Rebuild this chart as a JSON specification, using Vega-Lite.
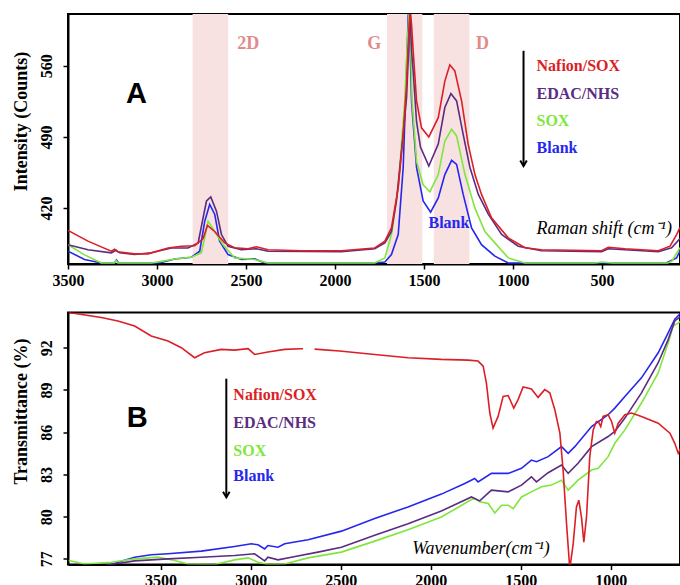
{
  "$schema": "https://vega.github.io/schema/vega-lite/v6.json",
  "background": "white",
  "padding": {"left": 10, "top": 13, "right": 1, "bottom": 0},
  "spacing": 22.5,
  "config": {
    "view": {"stroke": "black", "strokeWidth": 2},
    "axis": {
      "grid": false,
      "labelFont": "Liberation Serif", "labelFontWeight": "bold", "labelFontSize": 16, "labelColor": "black",
      "titleFont": "Liberation Serif", "titleFontWeight": "bold", "titleFontSize": 18, "titleColor": "black",
      "domainColor": "black", "domainWidth": 2, "tickColor": "black", "tickWidth": 1.5, "tickSize": 5,
      "labelPadding": 3, "titlePadding": 6, "labelFlush": false
    },
    "axisY": {"labelPadding": 9, "titlePadding": 8},
    "text": {"font": "Liberation Serif", "fontWeight": "bold"}
  },
  "datasets": {
    "bandsA": [
      {"x1": 2800, "x2": 2600},
      {"x1": 1708, "x2": 1510},
      {"x1": 1445, "x2": 1245}
    ],
    "bandLabelsA": [
      {"t": "2D", "x": 2487, "y": 581},
      {"t": "G", "x": 1780, "y": 581},
      {"t": "D", "x": 1171, "y": 581}
    ],
    "legendA": [
      {"s": "Nafion/SOX", "t": "Nafion/SOX", "x": 868, "y": 560},
      {"s": "EDAC/NHS", "t": "EDAC/NHS", "x": 868, "y": 532},
      {"s": "SOX", "t": "SOX", "x": 868, "y": 505.8},
      {"s": "Blank", "t": "Blank", "x": 868, "y": 479},
      {"s": "Blank", "t": "Blank", "x": 1475, "y": 405}
    ],
    "arrowA": [{"x": 941, "y": 574.8, "y2": 461.4}],
    "letterA": [{"t": "A", "x": 3116, "y": 532.4}],
    "captionA": [{"t": "Raman shift (cm⁻¹)", "x": 868, "y": 399.3}],
    "raman": [
      {"s": "Blank", "x": 3500, "y": 377.6}, {"s": "Blank", "x": 3407, "y": 369.5}, {"s": "Blank", "x": 3313, "y": 366}, {"s": "Blank", "x": 3240, "y": 366}, {"s": "Blank", "x": 3228, "y": 369}, {"s": "Blank", "x": 3216, "y": 366}, {"s": "Blank", "x": 3000, "y": 366}, {"s": "Blank", "x": 2976, "y": 366.5}, {"s": "Blank", "x": 2901, "y": 370}, {"s": "Blank", "x": 2807, "y": 371.7}, {"s": "Blank", "x": 2760, "y": 377.6}, {"s": "Blank", "x": 2732, "y": 407}, {"s": "Blank", "x": 2704, "y": 423.6}, {"s": "Blank", "x": 2676, "y": 414}, {"s": "Blank", "x": 2648, "y": 387.5}, {"s": "Blank", "x": 2601, "y": 374.3}, {"s": "Blank", "x": 2526, "y": 369.5}, {"s": "Blank", "x": 2451, "y": 370}, {"s": "Blank", "x": 2395, "y": 366}, {"s": "Blank", "x": 1777, "y": 366}, {"s": "Blank", "x": 1720, "y": 367}, {"s": "Blank", "x": 1683, "y": 374.3}, {"s": "Blank", "x": 1645, "y": 394}, {"s": "Blank", "x": 1617, "y": 460}, {"s": "Blank", "x": 1598, "y": 558}, {"s": "Blank", "x": 1588, "y": 614}, {"s": "Blank", "x": 1578, "y": 580}, {"s": "Blank", "x": 1570, "y": 525}, {"s": "Blank", "x": 1542, "y": 460}, {"s": "Blank", "x": 1505, "y": 427}, {"s": "Blank", "x": 1463, "y": 416}, {"s": "Blank", "x": 1420, "y": 430}, {"s": "Blank", "x": 1383, "y": 453}, {"s": "Blank", "x": 1345, "y": 467}, {"s": "Blank", "x": 1317, "y": 463}, {"s": "Blank", "x": 1280, "y": 433.5}, {"s": "Blank", "x": 1233, "y": 400.6}, {"s": "Blank", "x": 1177, "y": 384}, {"s": "Blank", "x": 1102, "y": 372.7}, {"s": "Blank", "x": 1027, "y": 366}, {"s": "Blank", "x": 140, "y": 366}, {"s": "Blank", "x": 81, "y": 371}, {"s": "Blank", "x": 62, "y": 378},
      {"s": "SOX", "x": 3500, "y": 384}, {"s": "SOX", "x": 3407, "y": 374}, {"s": "SOX", "x": 3313, "y": 366}, {"s": "SOX", "x": 3240, "y": 366}, {"s": "SOX", "x": 3230, "y": 368.5}, {"s": "SOX", "x": 3220, "y": 366}, {"s": "SOX", "x": 3032, "y": 366}, {"s": "SOX", "x": 2976, "y": 367.6}, {"s": "SOX", "x": 2901, "y": 370}, {"s": "SOX", "x": 2807, "y": 371.7}, {"s": "SOX", "x": 2751, "y": 376}, {"s": "SOX", "x": 2728, "y": 394}, {"s": "SOX", "x": 2713, "y": 407}, {"s": "SOX", "x": 2676, "y": 397}, {"s": "SOX", "x": 2629, "y": 384}, {"s": "SOX", "x": 2564, "y": 371}, {"s": "SOX", "x": 2451, "y": 369.5}, {"s": "SOX", "x": 2376, "y": 366}, {"s": "SOX", "x": 1777, "y": 366}, {"s": "SOX", "x": 1720, "y": 371}, {"s": "SOX", "x": 1683, "y": 394}, {"s": "SOX", "x": 1645, "y": 440}, {"s": "SOX", "x": 1608, "y": 525.5}, {"s": "SOX", "x": 1595, "y": 580}, {"s": "SOX", "x": 1583, "y": 614}, {"s": "SOX", "x": 1575, "y": 580}, {"s": "SOX", "x": 1567, "y": 525}, {"s": "SOX", "x": 1542, "y": 466}, {"s": "SOX", "x": 1505, "y": 443}, {"s": "SOX", "x": 1467, "y": 436}, {"s": "SOX", "x": 1420, "y": 453}, {"s": "SOX", "x": 1383, "y": 486}, {"s": "SOX", "x": 1345, "y": 497.6}, {"s": "SOX", "x": 1317, "y": 491}, {"s": "SOX", "x": 1270, "y": 453}, {"s": "SOX", "x": 1214, "y": 420}, {"s": "SOX", "x": 1158, "y": 397}, {"s": "SOX", "x": 1102, "y": 385.8}, {"s": "SOX", "x": 1027, "y": 371}, {"s": "SOX", "x": 933, "y": 366}, {"s": "SOX", "x": 540, "y": 366}, {"s": "SOX", "x": 502, "y": 367}, {"s": "SOX", "x": 440, "y": 366}, {"s": "SOX", "x": 130, "y": 366}, {"s": "SOX", "x": 109, "y": 367.6}, {"s": "SOX", "x": 62, "y": 381},
      {"s": "EDAC/NHS", "x": 3500, "y": 384}, {"s": "EDAC/NHS", "x": 3388, "y": 379}, {"s": "EDAC/NHS", "x": 3257, "y": 376}, {"s": "EDAC/NHS", "x": 3230, "y": 378.5}, {"s": "EDAC/NHS", "x": 3210, "y": 376}, {"s": "EDAC/NHS", "x": 3126, "y": 374.3}, {"s": "EDAC/NHS", "x": 3032, "y": 376}, {"s": "EDAC/NHS", "x": 2919, "y": 380.8}, {"s": "EDAC/NHS", "x": 2826, "y": 380.8}, {"s": "EDAC/NHS", "x": 2769, "y": 385.8}, {"s": "EDAC/NHS", "x": 2741, "y": 410.5}, {"s": "EDAC/NHS", "x": 2722, "y": 427}, {"s": "EDAC/NHS", "x": 2698, "y": 431}, {"s": "EDAC/NHS", "x": 2666, "y": 417}, {"s": "EDAC/NHS", "x": 2638, "y": 394}, {"s": "EDAC/NHS", "x": 2601, "y": 382.5}, {"s": "EDAC/NHS", "x": 2526, "y": 379}, {"s": "EDAC/NHS", "x": 2441, "y": 380}, {"s": "EDAC/NHS", "x": 2376, "y": 377.6}, {"s": "EDAC/NHS", "x": 1964, "y": 377}, {"s": "EDAC/NHS", "x": 1777, "y": 380}, {"s": "EDAC/NHS", "x": 1720, "y": 385.8}, {"s": "EDAC/NHS", "x": 1683, "y": 397}, {"s": "EDAC/NHS", "x": 1655, "y": 427}, {"s": "EDAC/NHS", "x": 1617, "y": 492.6}, {"s": "EDAC/NHS", "x": 1598, "y": 529}, {"s": "EDAC/NHS", "x": 1588, "y": 570}, {"s": "EDAC/NHS", "x": 1579, "y": 614}, {"s": "EDAC/NHS", "x": 1570, "y": 575}, {"s": "EDAC/NHS", "x": 1561, "y": 555}, {"s": "EDAC/NHS", "x": 1542, "y": 505}, {"s": "EDAC/NHS", "x": 1520, "y": 480}, {"s": "EDAC/NHS", "x": 1473, "y": 461.4}, {"s": "EDAC/NHS", "x": 1420, "y": 483}, {"s": "EDAC/NHS", "x": 1383, "y": 519}, {"s": "EDAC/NHS", "x": 1349, "y": 532.7}, {"s": "EDAC/NHS", "x": 1317, "y": 525.5}, {"s": "EDAC/NHS", "x": 1280, "y": 492.6}, {"s": "EDAC/NHS", "x": 1242, "y": 460}, {"s": "EDAC/NHS", "x": 1195, "y": 433.5}, {"s": "EDAC/NHS", "x": 1139, "y": 414}, {"s": "EDAC/NHS", "x": 1064, "y": 394}, {"s": "EDAC/NHS", "x": 971, "y": 382.5}, {"s": "EDAC/NHS", "x": 840, "y": 378}, {"s": "EDAC/NHS", "x": 502, "y": 377}, {"s": "EDAC/NHS", "x": 465, "y": 380}, {"s": "EDAC/NHS", "x": 184, "y": 377}, {"s": "EDAC/NHS", "x": 109, "y": 381}, {"s": "EDAC/NHS", "x": 62, "y": 390},
      {"s": "Nafion/SOX", "x": 3500, "y": 398}, {"s": "Nafion/SOX", "x": 3388, "y": 387.5}, {"s": "Nafion/SOX", "x": 3257, "y": 377.6}, {"s": "Nafion/SOX", "x": 3238, "y": 379.5}, {"s": "Nafion/SOX", "x": 3220, "y": 377}, {"s": "Nafion/SOX", "x": 3126, "y": 375}, {"s": "Nafion/SOX", "x": 3050, "y": 375}, {"s": "Nafion/SOX", "x": 2938, "y": 380.8}, {"s": "Nafion/SOX", "x": 2863, "y": 382.5}, {"s": "Nafion/SOX", "x": 2788, "y": 383}, {"s": "Nafion/SOX", "x": 2741, "y": 390}, {"s": "Nafion/SOX", "x": 2717, "y": 403}, {"s": "Nafion/SOX", "x": 2676, "y": 397}, {"s": "Nafion/SOX", "x": 2620, "y": 385.8}, {"s": "Nafion/SOX", "x": 2564, "y": 381}, {"s": "Nafion/SOX", "x": 2488, "y": 380}, {"s": "Nafion/SOX", "x": 2441, "y": 382}, {"s": "Nafion/SOX", "x": 2376, "y": 379}, {"s": "Nafion/SOX", "x": 2189, "y": 378}, {"s": "Nafion/SOX", "x": 1964, "y": 378}, {"s": "Nafion/SOX", "x": 1777, "y": 380.8}, {"s": "Nafion/SOX", "x": 1720, "y": 387.5}, {"s": "Nafion/SOX", "x": 1683, "y": 400.6}, {"s": "Nafion/SOX", "x": 1645, "y": 440}, {"s": "Nafion/SOX", "x": 1617, "y": 492.6}, {"s": "Nafion/SOX", "x": 1598, "y": 542}, {"s": "Nafion/SOX", "x": 1590, "y": 575}, {"s": "Nafion/SOX", "x": 1583, "y": 600}, {"s": "Nafion/SOX", "x": 1577, "y": 615}, {"s": "Nafion/SOX", "x": 1570, "y": 600}, {"s": "Nafion/SOX", "x": 1561, "y": 575}, {"s": "Nafion/SOX", "x": 1542, "y": 525.5}, {"s": "Nafion/SOX", "x": 1514, "y": 499}, {"s": "Nafion/SOX", "x": 1473, "y": 490}, {"s": "Nafion/SOX", "x": 1420, "y": 509}, {"s": "Nafion/SOX", "x": 1383, "y": 545}, {"s": "Nafion/SOX", "x": 1355, "y": 561}, {"s": "Nafion/SOX", "x": 1327, "y": 555}, {"s": "Nafion/SOX", "x": 1289, "y": 525.5}, {"s": "Nafion/SOX", "x": 1252, "y": 483}, {"s": "Nafion/SOX", "x": 1214, "y": 453}, {"s": "Nafion/SOX", "x": 1177, "y": 433.5}, {"s": "Nafion/SOX", "x": 1121, "y": 410.5}, {"s": "Nafion/SOX", "x": 1027, "y": 390.7}, {"s": "Nafion/SOX", "x": 933, "y": 381}, {"s": "Nafion/SOX", "x": 840, "y": 379}, {"s": "Nafion/SOX", "x": 502, "y": 378}, {"s": "Nafion/SOX", "x": 465, "y": 381.5}, {"s": "Nafion/SOX", "x": 371, "y": 380}, {"s": "Nafion/SOX", "x": 184, "y": 378}, {"s": "Nafion/SOX", "x": 118, "y": 382.5}, {"s": "Nafion/SOX", "x": 81, "y": 394}, {"s": "Nafion/SOX", "x": 62, "y": 401}
    ],
    "legendB": [
      {"s": "Nafion/SOX", "t": "Nafion/SOX", "x": 3096, "y": 88.66},
      {"s": "EDAC/NHS", "t": "EDAC/NHS", "x": 3096, "y": 86.66},
      {"s": "SOX", "t": "SOX", "x": 3096, "y": 84.66},
      {"s": "Blank", "t": "Blank", "x": 3096, "y": 82.88}
    ],
    "arrowB": [{"x": 3135, "y": 89.8, "y2": 81.38}],
    "letterB": [{"t": "B", "x": 3629, "y": 87.02}],
    "captionB": [{"t": "Wavenumber(cm⁻¹)", "x": 2103, "y": 77.71}],
    "ftir": [
      {"s": "Blank", "x": 3900, "y": 76.3}, {"s": "Blank", "x": 3774, "y": 76.6}, {"s": "Blank", "x": 3700, "y": 76.9}, {"s": "Blank", "x": 3644, "y": 77.12}, {"s": "Blank", "x": 3552, "y": 77.29}, {"s": "Blank", "x": 3459, "y": 77.36}, {"s": "Blank", "x": 3274, "y": 77.55}, {"s": "Blank", "x": 3089, "y": 77.88}, {"s": "Blank", "x": 2996, "y": 78.07}, {"s": "Blank", "x": 2959, "y": 78.0}, {"s": "Blank", "x": 2922, "y": 77.71}, {"s": "Blank", "x": 2904, "y": 77.95}, {"s": "Blank", "x": 2848, "y": 77.83}, {"s": "Blank", "x": 2811, "y": 78.07}, {"s": "Blank", "x": 2681, "y": 78.36}, {"s": "Blank", "x": 2496, "y": 78.97}, {"s": "Blank", "x": 2311, "y": 79.86}, {"s": "Blank", "x": 2126, "y": 80.69}, {"s": "Blank", "x": 1941, "y": 81.6}, {"s": "Blank", "x": 1811, "y": 82.36}, {"s": "Blank", "x": 1756, "y": 82.71}, {"s": "Blank", "x": 1737, "y": 82.47}, {"s": "Blank", "x": 1663, "y": 83.07}, {"s": "Blank", "x": 1570, "y": 83.07}, {"s": "Blank", "x": 1496, "y": 83.43}, {"s": "Blank", "x": 1441, "y": 84.02}, {"s": "Blank", "x": 1413, "y": 83.9}, {"s": "Blank", "x": 1348, "y": 84.26}, {"s": "Blank", "x": 1274, "y": 84.97}, {"s": "Blank", "x": 1237, "y": 84.5}, {"s": "Blank", "x": 1200, "y": 84.97}, {"s": "Blank", "x": 1107, "y": 86.4}, {"s": "Blank", "x": 1015, "y": 87.24}, {"s": "Blank", "x": 978, "y": 87.71}, {"s": "Blank", "x": 922, "y": 88.54}, {"s": "Blank", "x": 830, "y": 89.86}, {"s": "Blank", "x": 737, "y": 91.64}, {"s": "Blank", "x": 681, "y": 93.07}, {"s": "Blank", "x": 645, "y": 94.02}, {"s": "Blank", "x": 608, "y": 94.5},
      {"s": "SOX", "x": 4010, "y": 76.88}, {"s": "SOX", "x": 3922, "y": 76.64}, {"s": "SOX", "x": 3774, "y": 76.76}, {"s": "SOX", "x": 3644, "y": 77.0}, {"s": "SOX", "x": 3514, "y": 77.12}, {"s": "SOX", "x": 3422, "y": 76.88}, {"s": "SOX", "x": 3348, "y": 76.64}, {"s": "SOX", "x": 3200, "y": 76.6}, {"s": "SOX", "x": 3089, "y": 76.93}, {"s": "SOX", "x": 3014, "y": 77.07}, {"s": "SOX", "x": 2959, "y": 76.76}, {"s": "SOX", "x": 2904, "y": 76.6}, {"s": "SOX", "x": 2811, "y": 76.64}, {"s": "SOX", "x": 2681, "y": 77.07}, {"s": "SOX", "x": 2496, "y": 77.48}, {"s": "SOX", "x": 2311, "y": 78.26}, {"s": "SOX", "x": 2126, "y": 79.07}, {"s": "SOX", "x": 1941, "y": 79.97}, {"s": "SOX", "x": 1774, "y": 81.21}, {"s": "SOX", "x": 1756, "y": 81.29}, {"s": "SOX", "x": 1728, "y": 81.05}, {"s": "SOX", "x": 1681, "y": 80.93}, {"s": "SOX", "x": 1644, "y": 80.26}, {"s": "SOX", "x": 1607, "y": 80.81}, {"s": "SOX", "x": 1570, "y": 80.81}, {"s": "SOX", "x": 1542, "y": 80.57}, {"s": "SOX", "x": 1496, "y": 81.4}, {"s": "SOX", "x": 1441, "y": 81.76}, {"s": "SOX", "x": 1385, "y": 82.12}, {"s": "SOX", "x": 1330, "y": 82.24}, {"s": "SOX", "x": 1274, "y": 82.59}, {"s": "SOX", "x": 1237, "y": 81.88}, {"s": "SOX", "x": 1182, "y": 82.59}, {"s": "SOX", "x": 1107, "y": 83.31}, {"s": "SOX", "x": 1070, "y": 83.43}, {"s": "SOX", "x": 1015, "y": 84.26}, {"s": "SOX", "x": 978, "y": 85.21}, {"s": "SOX", "x": 922, "y": 86.16}, {"s": "SOX", "x": 830, "y": 88.07}, {"s": "SOX", "x": 737, "y": 90.21}, {"s": "SOX", "x": 681, "y": 92.36}, {"s": "SOX", "x": 654, "y": 93.54}, {"s": "SOX", "x": 608, "y": 93.9},
      {"s": "EDAC/NHS", "x": 3900, "y": 76.3}, {"s": "EDAC/NHS", "x": 3774, "y": 76.6}, {"s": "EDAC/NHS", "x": 3644, "y": 76.86}, {"s": "EDAC/NHS", "x": 3459, "y": 77.0}, {"s": "EDAC/NHS", "x": 3274, "y": 77.12}, {"s": "EDAC/NHS", "x": 3089, "y": 77.24}, {"s": "EDAC/NHS", "x": 2978, "y": 77.36}, {"s": "EDAC/NHS", "x": 2922, "y": 76.86}, {"s": "EDAC/NHS", "x": 2904, "y": 77.12}, {"s": "EDAC/NHS", "x": 2848, "y": 76.93}, {"s": "EDAC/NHS", "x": 2774, "y": 77.12}, {"s": "EDAC/NHS", "x": 2626, "y": 77.48}, {"s": "EDAC/NHS", "x": 2496, "y": 77.83}, {"s": "EDAC/NHS", "x": 2311, "y": 78.67}, {"s": "EDAC/NHS", "x": 2126, "y": 79.5}, {"s": "EDAC/NHS", "x": 1941, "y": 80.4}, {"s": "EDAC/NHS", "x": 1774, "y": 81.4}, {"s": "EDAC/NHS", "x": 1728, "y": 81.12}, {"s": "EDAC/NHS", "x": 1663, "y": 81.88}, {"s": "EDAC/NHS", "x": 1570, "y": 81.76}, {"s": "EDAC/NHS", "x": 1496, "y": 82.24}, {"s": "EDAC/NHS", "x": 1441, "y": 82.83}, {"s": "EDAC/NHS", "x": 1413, "y": 82.47}, {"s": "EDAC/NHS", "x": 1348, "y": 83.12}, {"s": "EDAC/NHS", "x": 1274, "y": 83.67}, {"s": "EDAC/NHS", "x": 1237, "y": 83.07}, {"s": "EDAC/NHS", "x": 1182, "y": 83.79}, {"s": "EDAC/NHS", "x": 1107, "y": 84.97}, {"s": "EDAC/NHS", "x": 1015, "y": 85.69}, {"s": "EDAC/NHS", "x": 978, "y": 86.05}, {"s": "EDAC/NHS", "x": 922, "y": 87.0}, {"s": "EDAC/NHS", "x": 830, "y": 88.79}, {"s": "EDAC/NHS", "x": 737, "y": 90.93}, {"s": "EDAC/NHS", "x": 681, "y": 92.59}, {"s": "EDAC/NHS", "x": 645, "y": 93.9}, {"s": "EDAC/NHS", "x": 608, "y": 94.26},
      {"s": "Nafion/SOX", "x": 4010, "y": 94.5}, {"s": "Nafion/SOX", "x": 3829, "y": 94.14}, {"s": "Nafion/SOX", "x": 3737, "y": 93.9}, {"s": "Nafion/SOX", "x": 3644, "y": 93.54}, {"s": "Nafion/SOX", "x": 3552, "y": 92.83}, {"s": "Nafion/SOX", "x": 3459, "y": 92.47}, {"s": "Nafion/SOX", "x": 3385, "y": 92.0}, {"s": "Nafion/SOX", "x": 3311, "y": 91.29}, {"s": "Nafion/SOX", "x": 3256, "y": 91.64}, {"s": "Nafion/SOX", "x": 3163, "y": 91.88}, {"s": "Nafion/SOX", "x": 3089, "y": 91.83}, {"s": "Nafion/SOX", "x": 3014, "y": 91.93}, {"s": "Nafion/SOX", "x": 2978, "y": 91.52}, {"s": "Nafion/SOX", "x": 2904, "y": 91.69}, {"s": "Nafion/SOX", "x": 2811, "y": 91.88}, {"s": "Nafion/SOX", "x": 2719, "y": 91.93}, {"s": "Nafion/SOX", "x": 2709, "y": 91.93}, {"s": "Nafion/SOX", "x": 2680, "y": null}, {"s": "Nafion/SOX", "x": 2645, "y": 91.9}, {"s": "Nafion/SOX", "x": 2506, "y": 91.76}, {"s": "Nafion/SOX", "x": 2311, "y": 91.52}, {"s": "Nafion/SOX", "x": 2126, "y": 91.29}, {"s": "Nafion/SOX", "x": 1941, "y": 91.17}, {"s": "Nafion/SOX", "x": 1792, "y": 91.12}, {"s": "Nafion/SOX", "x": 1737, "y": 91.05}, {"s": "Nafion/SOX", "x": 1709, "y": 90.69}, {"s": "Nafion/SOX", "x": 1691, "y": 89.5}, {"s": "Nafion/SOX", "x": 1672, "y": 87.36}, {"s": "Nafion/SOX", "x": 1654, "y": 86.29}, {"s": "Nafion/SOX", "x": 1626, "y": 87.12}, {"s": "Nafion/SOX", "x": 1598, "y": 88.54}, {"s": "Nafion/SOX", "x": 1570, "y": 88.6}, {"s": "Nafion/SOX", "x": 1539, "y": 87.71}, {"s": "Nafion/SOX", "x": 1515, "y": 88.31}, {"s": "Nafion/SOX", "x": 1487, "y": 89.21}, {"s": "Nafion/SOX", "x": 1441, "y": 89.07}, {"s": "Nafion/SOX", "x": 1404, "y": 88.47}, {"s": "Nafion/SOX", "x": 1367, "y": 89.02}, {"s": "Nafion/SOX", "x": 1339, "y": 88.79}, {"s": "Nafion/SOX", "x": 1311, "y": 87.59}, {"s": "Nafion/SOX", "x": 1283, "y": 85.93}, {"s": "Nafion/SOX", "x": 1265, "y": 83.31}, {"s": "Nafion/SOX", "x": 1246, "y": 79.5}, {"s": "Nafion/SOX", "x": 1228, "y": 76.3}, {"s": "Nafion/SOX", "x": 1209, "y": 78.07}, {"s": "Nafion/SOX", "x": 1191, "y": 80.69}, {"s": "Nafion/SOX", "x": 1178, "y": 81.17}, {"s": "Nafion/SOX", "x": 1163, "y": 79.97}, {"s": "Nafion/SOX", "x": 1150, "y": 78.19}, {"s": "Nafion/SOX", "x": 1135, "y": 79.97}, {"s": "Nafion/SOX", "x": 1117, "y": 84.26}, {"s": "Nafion/SOX", "x": 1098, "y": 86.16}, {"s": "Nafion/SOX", "x": 1080, "y": 86.76}, {"s": "Nafion/SOX", "x": 1070, "y": 86.76}, {"s": "Nafion/SOX", "x": 1056, "y": 86.4}, {"s": "Nafion/SOX", "x": 1043, "y": 87.12}, {"s": "Nafion/SOX", "x": 1015, "y": 87.24}, {"s": "Nafion/SOX", "x": 996, "y": 86.76}, {"s": "Nafion/SOX", "x": 978, "y": 85.93}, {"s": "Nafion/SOX", "x": 959, "y": 86.64}, {"s": "Nafion/SOX", "x": 922, "y": 87.24}, {"s": "Nafion/SOX", "x": 885, "y": 87.36}, {"s": "Nafion/SOX", "x": 830, "y": 87.12}, {"s": "Nafion/SOX", "x": 737, "y": 86.64}, {"s": "Nafion/SOX", "x": 672, "y": 85.93}, {"s": "Nafion/SOX", "x": 645, "y": 85.21}, {"s": "Nafion/SOX", "x": 626, "y": 84.5}, {"s": "Nafion/SOX", "x": 608, "y": 84.97}
    ]
  },
  "vconcat": [
    {
      "width": 612, "height": 250,
      "layer": [
        {
          "data": {"name": "bandsA"},
          "mark": {"type": "rect", "color": "#f7e1e1"},
          "encoding": {
            "x": {"field": "x1", "type": "quantitative"},
            "x2": {"field": "x2"}
          }
        },
        {
          "data": {"name": "raman"},
          "mark": {"type": "line", "strokeWidth": 1.6, "clip": true},
          "encoding": {
            "x": {"field": "x", "type": "quantitative",
                  "scale": {"domain": [62, 3500], "reverse": true, "nice": false, "zero": false},
                  "axis": {"title": null, "format": "d", "values": [500, 1000, 1500, 2000, 2500, 3000, 3500]}},
            "y": {"field": "y", "type": "quantitative",
                  "scale": {"domain": [365, 611], "nice": false, "zero": false},
                  "axis": {"title": "Intensity (Counts)", "values": [420, 490, 560], "labelAngle": -90, "titleY": 107}},
            "color": {"field": "s", "type": "nominal", "legend": null,
                      "scale": {"domain": ["Nafion/SOX", "EDAC/NHS", "SOX", "Blank"], "range": ["#dc1f26", "#5a2c82", "#7fe63c", "#2626ee"]}}
          }
        },
        {
          "data": {"name": "bandLabelsA"},
          "mark": {"type": "text", "fontSize": 18, "color": "#e38b8b", "baseline": "middle", "align": "center"},
          "encoding": {
            "x": {"field": "x", "type": "quantitative"},
            "y": {"field": "y", "type": "quantitative"},
            "text": {"field": "t"}
          }
        },
        {
          "data": {"name": "legendA"},
          "mark": {"type": "text", "fontSize": 16, "baseline": "middle", "align": "left"},
          "encoding": {
            "x": {"field": "x", "type": "quantitative"},
            "y": {"field": "y", "type": "quantitative"},
            "text": {"field": "t"},
            "color": {"field": "s", "type": "nominal", "legend": null}
          }
        },
        {
          "data": {"name": "arrowA"},
          "mark": {"type": "rule", "color": "black", "strokeWidth": 2},
          "encoding": {
            "x": {"field": "x", "type": "quantitative"},
            "y": {"field": "y", "type": "quantitative"},
            "y2": {"field": "y2"}
          }
        },
        {
          "data": {"name": "arrowA"},
          "mark": {"type": "point", "shape": "M-0.6,-1L0,0L0.6,-1", "filled": false, "stroke": "black", "strokeWidth": 2, "size": 120, "opacity": 1},
          "encoding": {
            "x": {"field": "x", "type": "quantitative"},
            "y": {"field": "y2", "type": "quantitative"}
          }
        },
        {
          "data": {"name": "letterA"},
          "mark": {"type": "text", "font": "Liberation Sans", "fontSize": 29, "color": "black", "baseline": "middle", "align": "center"},
          "encoding": {
            "x": {"field": "x", "type": "quantitative"},
            "y": {"field": "y", "type": "quantitative"},
            "text": {"field": "t"}
          }
        },
        {
          "data": {"name": "captionA"},
          "mark": {"type": "text", "fontSize": 18, "fontWeight": "normal", "fontStyle": "italic", "color": "black", "baseline": "middle", "align": "left"},
          "encoding": {
            "x": {"field": "x", "type": "quantitative"},
            "y": {"field": "y", "type": "quantitative"},
            "text": {"field": "t"}
          }
        }
      ]
    },
    {
      "width": 612, "height": 252,
      "layer": [
        {
          "data": {"name": "ftir"},
          "mark": {"type": "line", "strokeWidth": 1.6, "clip": true, "invalid": "break-paths-filter-domains"},
          "encoding": {
            "x": {"field": "x", "type": "quantitative",
                  "scale": {"domain": [616, 4014], "reverse": true, "nice": false, "zero": false},
                  "axis": {"title": null, "format": "d", "values": [1000, 1500, 2000, 2500, 3000, 3500]}},
            "y": {"field": "y", "type": "quantitative",
                  "scale": {"domain": [76.6, 94.5], "nice": false, "zero": false},
                  "axis": {"title": "Transmittance (%)", "values": [77, 80, 83, 86, 89, 92], "labelAngle": -90, "titleY": 98.5}},
            "color": {"field": "s", "type": "nominal", "legend": null}
          }
        },
        {
          "data": {"name": "legendB"},
          "mark": {"type": "text", "fontSize": 16, "baseline": "middle", "align": "left"},
          "encoding": {
            "x": {"field": "x", "type": "quantitative"},
            "y": {"field": "y", "type": "quantitative"},
            "text": {"field": "t"},
            "color": {"field": "s", "type": "nominal", "legend": null}
          }
        },
        {
          "data": {"name": "arrowB"},
          "mark": {"type": "rule", "color": "black", "strokeWidth": 2},
          "encoding": {
            "x": {"field": "x", "type": "quantitative"},
            "y": {"field": "y", "type": "quantitative"},
            "y2": {"field": "y2"}
          }
        },
        {
          "data": {"name": "arrowB"},
          "mark": {"type": "point", "shape": "M-0.6,-1L0,0L0.6,-1", "filled": false, "stroke": "black", "strokeWidth": 2, "size": 120, "opacity": 1},
          "encoding": {
            "x": {"field": "x", "type": "quantitative"},
            "y": {"field": "y2", "type": "quantitative"}
          }
        },
        {
          "data": {"name": "letterB"},
          "mark": {"type": "text", "font": "Liberation Sans", "fontSize": 29, "color": "black", "baseline": "middle", "align": "center"},
          "encoding": {
            "x": {"field": "x", "type": "quantitative"},
            "y": {"field": "y", "type": "quantitative"},
            "text": {"field": "t"}
          }
        },
        {
          "data": {"name": "captionB"},
          "mark": {"type": "text", "fontSize": 18, "fontWeight": "normal", "fontStyle": "italic", "color": "black", "baseline": "middle", "align": "left"},
          "encoding": {
            "x": {"field": "x", "type": "quantitative"},
            "y": {"field": "y", "type": "quantitative"},
            "text": {"field": "t"}
          }
        }
      ]
    }
  ]
}
